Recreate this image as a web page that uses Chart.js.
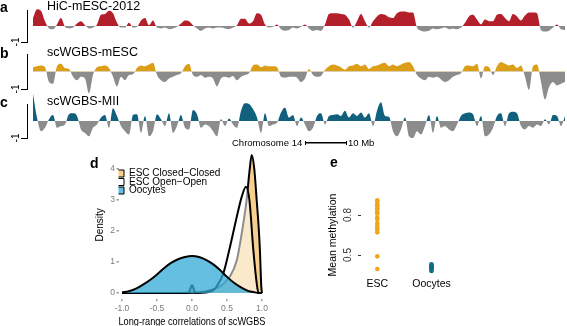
<!DOCTYPE html>
<html>
<head>
<meta charset="utf-8">
<script src="https://cdn.jsdelivr.net/npm/chart.js@4.4.1/dist/chart.umd.min.js"></script>
<style>
  html, body { margin: 0; padding: 0; background: #fff; }
  body { width: 567px; height: 326px; overflow: hidden; position: relative; font-family: "Liberation Sans", Arial, sans-serif; }
  canvas, .txt { position: absolute; }
  .txt { white-space: nowrap; line-height: 1; color: #000; }
  .panel { font-weight: bold; font-size: 14px; }
  .track { font-size: 12.5px; }
  .small { font-size: 9.5px; }
  .bar { position: absolute; left: 305px; top: 141px; width: 40px; height: 4px;
         border-left: 1px solid #000; border-right: 1px solid #000;
         background: linear-gradient(#000, #000) center / 100% 1.5px no-repeat; }
</style>
</head>
<body>
<canvas id="tracks" width="567" height="150" style="left:0;top:0"></canvas>
<canvas id="density" width="190" height="190" style="left:90px;top:145px"></canvas>
<canvas id="meth" width="190" height="176" style="left:300px;top:150px"></canvas>

<div class="txt panel" style="left:0;top:0">a</div>
<div class="txt panel" style="left:0;top:46px">b</div>
<div class="txt panel" style="left:0;top:95px">c</div>
<div class="txt panel" style="left:90px;top:156px">d</div>
<div class="txt panel" style="left:330px;top:155px">e</div>
<div class="txt track" style="left:47px;top:0">HiC-mESC-2012</div>
<div class="txt track" style="left:47px;top:46px">scWGBS-mESC</div>
<div class="txt track" style="left:47px;top:95px">scWGBS-MII</div>
<div class="txt small" style="left:232px;top:138px">Chromosome 14</div>
<div class="bar"></div>
<div class="txt small" style="left:348px;top:138px">10 Mb</div>

<script>
// chromosome 14 profiles, one value per bin (left to right)
const hicValues = [
  0.5, 1.05, 0.95, 0.3, -0.15, -0.2, 0.1, 0.5, -0.05, -0.15,
  -0.1, 0.15, 0.3, 0.05, -0.15, -0.1, 0.1, 0.7, 0.75, 0.95,
  0.8, 0.2, -0.1, -0.1, 0.2, -0.1, -0.05, 0.35, 0.5, 0.05,
  0.35, -0.1, -0.15, -0.1, -0.2, -0.15, -0.05, 0.15, 0.35, 0.3,
  0.05, -0.15, -0.3, -0.15, -0.1, -0.15, -0.1, -0.1, -0.15, -0.2,
  -0.1, 0.05, 0.45, 0.45, 0.15, 0.3, 0.8, 0.7, 0.1, -0.1,
  -0.05, 0.1, -0.2, -0.3, -0.25, -0.1, -0.15, -0.05, 0.1, -0.15,
  -0.3, -0.25, -0.3, 0.1, 0.75, 0.8, 0.8, 0.75, 0.7, 0.4,
  -0.1, 0.3, 0.75, 0.3, -0.1, 0.3, 0.6, 0.75, 0.7, 0.55,
  0.5, 0.8, 0.9, 0.9, 0.85, 0.85, -0.1, -0.3, -0.35, -0.3,
  -0.15, -0.2, -0.15, -0.1, -0.2, -0.15, -0.2, -0.1, 0.2, 0.6,
  0.7, 0.4, 0.1, 0.4, 0.3, 0.3, 0.7, 0.75, 0.5, 0.3,
  0.75, 0.6, 0.35, 0.65, 0.85, 0.85, 0.8, -0.25, -0.35, -0.3,
  -0.1, 0.1, -0.2, -0.25
];
const mescValues = [
  0.25, 0.3, 0.35, 0.25, -0.6, -0.7, 0.3, 0.45, 0.2, 0.15,
  -0.3, -0.5, -0.3, -0.4, -1.25, -0.2, 0.25, 0.3, 0.35, 0.2,
  -0.3, -0.85, -0.3, -0.5, -0.2, -0.15, 0.2, 0.35, 0.3, 0.4,
  0.5, -0.2, -0.5, -0.6, -0.4, -0.3, -0.2, -0.1, 0.3, 0.45,
  -0.2, -0.3, -0.2, -0.35, -0.3, -0.4, -0.85, -0.4, -0.3, -0.35,
  -0.25, -0.5, -0.3, -0.2, -0.1, 0.35, 0.4, 0.25, 0.35, 0.3,
  0.3, 0.25, -0.3, -0.35, -0.3, -0.3, -0.35, -0.6, -0.4, 0.15,
  -0.2, -0.3, -0.25, 0.1, 0.3, 0.4, 0.35, 0.25, 0.1, 0.3,
  0.35, 0.45, 0.3, 0.4, 0.15, 0.3, 0.35, 0.45, 0.5, 0.3,
  0.4, 0.3, 0.4, 0.5, 0.55, 0.3, -0.2, -0.4, -0.5, -0.3,
  -0.35, -0.3, -0.45, -0.6, -0.5, -0.3, -0.2, -0.1, 0.3, 0.35,
  0.3, 0.45, -0.4, 0.3, 0.25, -0.2, 0.3, 0.55, 0.45, 0.35,
  0.4, 0.2, 0.35, -0.3, -1.05, 0.3, 0.4, -0.6, -1.6, -0.9,
  -0.6, -0.8, -0.7, -0.6
];
const miiValues = [
  1.6, 0.2, -0.6, -0.4, 0.1, 0.35, -0.4, -0.3, -0.2, 0.4,
  0.45, 0.3, -0.5, -0.7, -0.9, -0.4, -0.2, 0.2, 0.35, -0.4,
  0.75, 0.3, -0.3, -0.6, -0.8, 0.35, 0.4, -0.7, 0.3, -0.9,
  -0.6, 0.4, 0.1, -0.3, 0.45, -0.7, -0.3, 0.35, -0.4, -0.5,
  0.65, 0.4, -0.4, -0.2, -0.3, -0.6, -0.9, 0.1, -0.3, 0.15,
  -0.2, -0.4, 0.6, 1.05, 1.0, 0.7, 0.2, -0.7, 0.45, -0.3,
  -0.2, -0.1, 0.5, 0.8, 0.2, 0.35, -0.3, 0.2, -0.2, -0.6,
  -0.4, 0.3, 0.45, -0.2, 0.3, 0.35, 0.4, 0.3, 0.6, 0.2,
  0.45, 0.3, 0.5, 0.2, 0.45, -0.3, 0.6, 1.1, 0.3, 0.25,
  -0.6, -0.9, -0.5, 0.2, -0.9, -1.0, -0.6, -0.8, -0.3, 0.35,
  -0.7, 0.3, -0.4, -0.3, -0.5, -0.6, -0.2, 0.3, 0.45, 0.5,
  0.4, -0.3, 0.3, -0.9, -0.8, -0.4, 0.3, 0.45, -0.3, 0.45,
  0.55, 0.45, -0.3, -0.5, -0.3, -0.4, -0.2, -0.3, 0.1, -0.2,
  0.35, 0.3, -0.3, 0.3
];
const trackTicks = [-1, 1];

// panel d: density of long-range correlations
const ccX = [-1.0, -0.5, -0.05, 0.0, 0.05, 0.2, 0.35, 0.45, 0.54, 0.64, 0.71, 0.78, 0.82, 0.853, 0.89, 0.924, 0.95, 0.97, 0.99, 1.0];
const ccY = [0, 0, 0.01, 0.25, 0.01, 0.05, 0.15, 0.3, 0.53, 1.06, 1.92, 3.0, 3.9, 4.45, 4.0, 3.0, 2.2, 1.39, 0.2, 0];
const ooX = [-1.0, 0.2, 0.3, 0.35, 0.447, 0.543, 0.64, 0.71, 0.771, 0.82, 0.876, 0.924, 0.95, 1.0];
const ooY = [0, 0.02, 0.08, 0.2, 0.63, 1.49, 2.46, 3.1, 3.43, 3.0, 1.39, 0.32, 0, 0];
const oocX = [-1.0, -0.9, -0.8, -0.7, -0.6, -0.5, -0.4, -0.3, -0.2, -0.1, 0.0, 0.1, 0.2, 0.3, 0.4, 0.5, 0.6, 0.7, 0.8, 0.9, 0.95, 1.0];
const oocY = [0.02, 0.06, 0.14, 0.27, 0.42, 0.6, 0.8, 0.97, 1.09, 1.16, 1.19, 1.16, 1.07, 0.93, 0.74, 0.52, 0.33, 0.18, 0.07, 0.02, 0, 0];
const densXTicks = [-1, -0.5, 0, 0.5, 1];
const densYTicks = [0, 1, 2, 3, 4];

// panel e: mean methylation per cell
const groups = ['ESC', 'Oocytes'];
const groupPos = [1, 2];
const escMeth = [0.91, 0.9, 0.88, 0.87, 0.86, 0.85, 0.84, 0.82, 0.81, 0.78, 0.77, 0.74, 0.72, 0.7, 0.69, 0.67, 0.49, 0.395];
const oocMeth = [0.43, 0.42, 0.41, 0.4, 0.41, 0.39, 0.42, 0.4, 0.38];
const methTicks = [0.5, 0.8];

Chart.defaults.font.family = '"Liberation Sans", Arial, sans-serif';
Chart.defaults.animation = false;
Chart.defaults.plugins.tooltip.enabled = false;

// fix an axis' size and drop the label overflow padding so the plot area stays put
const pinWidth = w => scale => {
  scale.width = w;
  scale.paddingTop = scale.paddingBottom = scale.paddingLeft = scale.paddingRight = 0;
};
const pinHeight = h => scale => {
  scale.height = h;
  scale.paddingTop = scale.paddingBottom = scale.paddingLeft = scale.paddingRight = 0;
};
const tickList = list => scale => { scale.ticks = list.map(v => ({value: v})); };

function trackAxis(weight, stackWeight) {
  return {
    type: 'linear', position: 'left', stack: 'tracks', weight, stackWeight,
    min: -1, max: 1,
    afterFit: pinWidth(27),
    afterBuildTicks: tickList(trackTicks),
    border: {display: true, color: '#000', width: 1},
    grid: {drawOnChartArea: false, color: '#000', tickLength: 6, lineWidth: 1},
    ticks: {minRotation: 90, maxRotation: 90, crossAlign: 'center', padding: 0, color: '#000', font: {size: 10}}
  };
}
function spacer(weight, stackWeight) {
  return {type: 'linear', position: 'left', stack: 'tracks', weight, stackWeight, display: false, afterFit: pinWidth(27)};
}
function trackSet(label, vals, axis, color) {
  return {
    label, yAxisID: axis,
    data: vals.map((v, i) => ({x: i, y: v})),
    fill: {target: 'origin', above: color, below: '#8c8c8c'},
    borderColor: 'rgba(0,0,0,0)', borderWidth: 0, pointRadius: 0,
    cubicInterpolationMode: 'monotone', clip: false
  };
}

new Chart(document.getElementById('tracks'), {
  type: 'line',
  data: {
    datasets: [
      trackSet('HiC-mESC-2012', hicValues, 'ya', '#b3202c'),
      trackSet('scWGBS-mESC', mescValues, 'yb', '#dd9e17'),
      trackSet('scWGBS-MII', miiValues, 'yc', '#10607e')
    ]
  },
  options: {
    responsive: false,
    layout: {padding: 0},
    plugins: {legend: {display: false}},
    scales: {
      x: {type: 'linear', display: false, min: -1.5, max: 133.5, afterFit: pinHeight(0)},
      gTop: spacer(7, 10),
      ya: trackAxis(6, 32),
      g1: spacer(5, 12),
      yb: trackAxis(4, 35),
      g2: spacer(3, 15),
      yc: trackAxis(2, 34),
      gBot: spacer(1, 12)
    }
  }
});

function densSet(label, xs, ys, color, order) {
  return {
    label, order,
    data: xs.map((x, i) => ({x, y: ys[i]})),
    backgroundColor: color, borderColor: '#000', borderWidth: 2,
    fill: 'origin', pointRadius: 0, cubicInterpolationMode: 'monotone', clip: false
  };
}

new Chart(document.getElementById('density'), {
  type: 'line',
  data: {
    datasets: [
      densSet('Oocytes', oocX, oocY, 'rgba(50,170,215,0.75)', 0),
      densSet('ESC Open\u2212Open', ooX, ooY, 'rgba(255,255,255,0.55)', 1),
      densSet('ESC Closed\u2212Closed', ccX, ccY, 'rgba(240,165,50,0.55)', 2)
    ]
  },
  options: {
    responsive: false,
    layout: {padding: {top: 5.4, right: 14.5, left: 0, bottom: 0}},
    plugins: {
      legend: {
        position: 'chartArea', align: 'start', reverse: true,
        title: {display: true, text: '', padding: {top: 10.6, bottom: 0}},
        labels: {
          boxWidth: 7, boxHeight: 7, padding: -1.5, color: '#000', font: {size: 10},
          generateLabels: chart => Chart.defaults.plugins.legend.labels.generateLabels(chart)
            .map(item => Object.assign(item, {lineWidth: 1}))
        }
      }
    },
    scales: {
      x: {
        type: 'linear', min: -1.05, max: 1.05,
        afterFit: pinHeight(35.8),
        afterBuildTicks: tickList(densXTicks),
        border: {display: false},
        grid: {drawOnChartArea: false, tickLength: 2, color: '#a0a0a0', lineWidth: 1.5},
        ticks: {color: '#7a7a7a', font: {size: 8.5}, padding: 2, maxRotation: 0, callback: v => v.toFixed(1)},
        title: {display: true, text: 'Long-range correlations of scWGBS', color: '#000', font: {size: 11}, padding: {top: 0, bottom: 6.4}}
      },
      y: {
        min: -0.2, max: 4.6,
        afterFit: pinWidth(28.5),
        afterBuildTicks: tickList(densYTicks),
        border: {display: false},
        grid: {drawOnChartArea: false, tickLength: 2, color: '#a0a0a0', lineWidth: 1.5},
        ticks: {color: '#7a7a7a', font: {size: 8.5}, padding: 1.5},
        title: {display: true, text: 'Density', color: '#000', font: {size: 10}, padding: {top: 4, bottom: 0}}
      }
    }
  }
});

new Chart(document.getElementById('meth'), {
  type: 'scatter',
  data: {
    datasets: [
      {label: groups[0], data: escMeth.map(v => ({x: groupPos[0], y: v})), backgroundColor: '#f2a51a', borderWidth: 0, pointRadius: 2.3},
      {label: groups[1], data: oocMeth.map(v => ({x: groupPos[1], y: v})), backgroundColor: '#146a88', borderWidth: 0, pointRadius: 2.3}
    ]
  },
  options: {
    responsive: false,
    layout: {padding: {top: 45, right: 26, left: 0, bottom: 0}},
    plugins: {legend: {display: false}},
    scales: {
      x: {
        type: 'linear', min: 0.7, max: 2.6,
        afterFit: pinHeight(51),
        afterBuildTicks: tickList(groupPos),
        border: {display: false},
        grid: {display: false, drawTicks: false},
        ticks: {color: '#000', font: {size: 10.5}, padding: 3, maxRotation: 0, callback: v => groups[groupPos.indexOf(v)]}
      },
      y: {
        min: 0.35, max: 0.95,
        afterFit: pinWidth(61),
        afterBuildTicks: tickList(methTicks),
        border: {display: false},
        grid: {drawOnChartArea: false, tickLength: 3, color: '#333'},
        ticks: {minRotation: 90, maxRotation: 90, crossAlign: 'center', padding: 2.5, color: '#333', font: {size: 10}},
        title: {display: true, text: 'Mean methylation', color: '#000', font: {size: 10.5}, padding: {top: 27, bottom: 0}}
      }
    }
  }
});
</script>
</body>
</html>
